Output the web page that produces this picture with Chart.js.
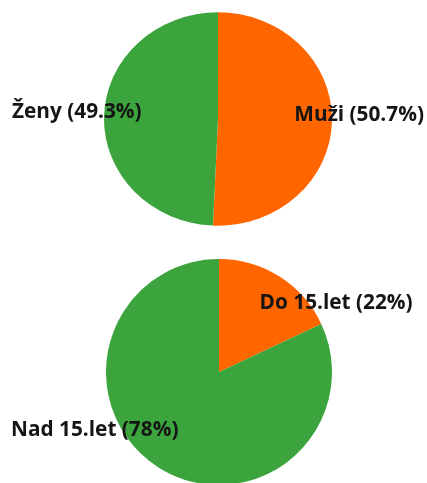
<!DOCTYPE html>
<html><head><meta charset="utf-8">
<script src="https://cdn.jsdelivr.net/npm/chart.js@4"></script>
<style>
html,body{margin:0;padding:0;background:#fff;overflow:hidden;width:427px;height:483px;}
.box{position:absolute;left:0;width:427px;}
</style></head><body>
<div class="box" style="top:0;height:240px"><canvas id="c1"></canvas></div>
<div class="box" style="top:240px;height:250px"><canvas id="c2"></canvas></div>
<script>
const genderLabels = ['Muži (50.7%)', 'Ženy (49.3%)'];
const genderValues = [50.7, 49.3];
const ageLabels = ['Do 15.let (22%)', 'Nad 15.let (78%)'];
const ageValues = [18, 82];
const sliceColors = ['#ff6600', '#3ca43c'];

function makePlugin(sy) {
  return {
    id: 'pieExtras',
    beforeDatasetsDraw(chart) {
      const ctx = chart.ctx;
      const a = chart.getDatasetMeta(0).data[0];
      ctx.save();
      ctx.translate(a.x, a.y);
      ctx.scale(1, sy);
      ctx.translate(-a.x, -a.y);
    },
    afterDatasetsDraw(chart) {
      chart.ctx.restore();
    },
    afterDraw(chart) {
      const ctx = chart.ctx;
      const labels = chart.data.labels;
      ctx.save();
      ctx.font = 'bold 20.8px "Open Sans"';
      ctx.fillStyle = '#151515';
      ctx.textBaseline = 'alphabetic';
      chart.getDatasetMeta(0).data.forEach((a, i) => {
        const mid = (a.startAngle + a.endAngle) / 2;
        const r = a.outerRadius * 0.67;
        const x = a.x + Math.cos(mid) * r;
        const y = a.y + Math.sin(mid) * r * sy + 0.5;
        ctx.textAlign = Math.cos(mid) < 0 ? 'right' : 'left';
        ctx.fillText(labels[i], x, y);
      });
      ctx.restore();
    }
  };
}

function makePie(id, labels, values, padding, sy) {
  return new Chart(document.getElementById(id), {
    type: 'pie',
    data: {
      labels: labels,
      datasets: [{ data: values, backgroundColor: sliceColors, borderWidth: 0 }]
    },
    options: {
      responsive: true,
      maintainAspectRatio: false,
      animation: false,
      layout: { padding: padding },
      plugins: { legend: { display: false }, tooltip: { enabled: false } }
    },
    plugins: [makePlugin(sy)]
  });
}

makePie('c1', genderLabels, genderValues, {left: 104, right: 95, top: 5, bottom: 7}, 0.936);
makePie('c2', ageLabels, ageValues, {left: 106, right: 95, top: 19, bottom: 5}, 1);
</script>
</body></html>
